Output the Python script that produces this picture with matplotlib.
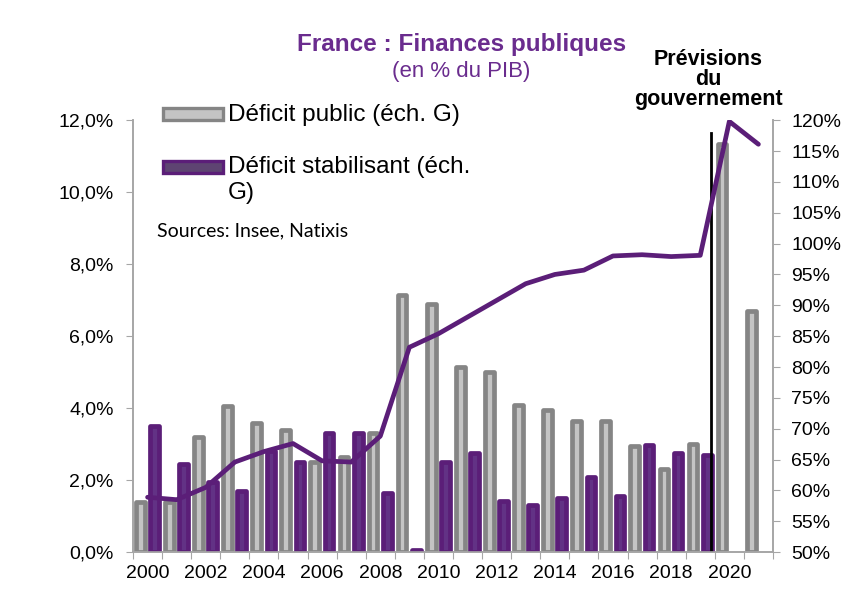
import numpy as np
import matplotlib.pyplot as plt
from matplotlib.patches import Rectangle
from matplotlib.ticker import FuncFormatter

years = list(range(2000, 2022))
deficit_public = [1.4, 1.4, 3.2, 4.05, 3.6, 3.4, 2.5, 2.65, 3.3, 7.15, 6.9, 5.15,
                  5.0, 4.1, 3.95, 3.65, 3.65, 2.95, 2.3, 3.0, 11.35, 6.7]
deficit_stabilisant = [3.5, 2.45, 1.95, 1.7, 2.8, 2.5, 3.3, 3.3, 1.65, 0.07, 2.5, 2.75,
                       1.43, 1.3, 1.5, 2.1, 1.55, 2.97, 2.75, 2.7, None, None]
dette = [58.9, 58.5, 60.5, 64.6, 66.3, 67.6, 64.8, 64.6, 68.8, 83.2, 85.4, 88.1,
         90.8, 93.5, 95.0, 95.7, 98.0, 98.2, 97.9, 98.1, 119.8, 116.1]

PURPLE = '#5b1e78'
TITLE_PURPLE = '#6a2c8e'
GRAY_EDGE = '#858585'
GRAY_FACE = '#c4c4c4'
AXIS_GRAY = '#a6a6a6'

plt.rcParams['font.family'] = ['Liberation Sans', 'DejaVu Sans']

fig = plt.figure(figsize=(8.42, 5.95), dpi=100)
ax = fig.add_axes([0.158, 0.072, 0.76, 0.726])
ax2 = ax.twinx()

x = np.arange(len(years))
w = 0.3
ax.bar(x - 0.25, deficit_public, width=w, color=GRAY_FACE, edgecolor=GRAY_EDGE,
       linewidth=3.4, joinstyle='round', zorder=2)
stab_x = [xi for xi, v in zip(x, deficit_stabilisant) if v is not None]
stab_v = [v for v in deficit_stabilisant if v is not None]
ax.bar(np.array(stab_x) + 0.24, stab_v, width=w, color='#623285', edgecolor=PURPLE,
       linewidth=3.4, joinstyle='round', zorder=3)

# forecast separator
ax.plot([19.37, 19.37], [0, 11.65], color='black', lw=2, zorder=6)

ax2.plot(x, dette, color=PURPLE, lw=3.4, zorder=5, solid_capstyle='round')
ax2.set_zorder(ax.get_zorder() + 1)
ax2.patch.set_visible(False)

ax.set_xlim(-0.5, len(years) - 0.5)
ax.set_ylim(0, 12)
ax2.set_ylim(50, 120)

ax.set_yticks(np.arange(0, 12.1, 2))
ax.yaxis.set_major_formatter(FuncFormatter(lambda v, p: f"{v:.1f}%".replace('.', ',')))
ax2.set_yticks(np.arange(50, 121, 5))
ax2.yaxis.set_major_formatter(FuncFormatter(lambda v, p: f"{v:.0f}%"))

ax.set_xticks(np.arange(-0.5, len(years), 1))
ax.set_xticklabels([])
ax.set_xticks(x[::2], minor=True)
ax.set_xticklabels([str(y) for y in years[::2]], minor=True)
ax.tick_params(axis='x', which='minor', length=0, labelsize=14, pad=9)
ax.tick_params(axis='x', which='major', length=5, color=AXIS_GRAY)
ax.tick_params(axis='y', labelsize=14, length=5, color=AXIS_GRAY, pad=9)
ax2.tick_params(axis='y', labelsize=14, length=5, color=AXIS_GRAY, pad=8)

for a in (ax, ax2):
    a.spines['top'].set_visible(False)
    for s in ('left', 'right', 'bottom'):
        a.spines[s].set_color(AXIS_GRAY)
        a.spines[s].set_linewidth(1.2)

fig.text(0.548, 0.926, "France : Finances publiques", ha='center', va='center',
         fontsize=17.5, fontweight='bold', color=TITLE_PURPLE)
fig.text(0.548, 0.879, "(en % du PIB)", ha='center', va='center',
         fontsize=16, color=TITLE_PURPLE)
fig.text(0.841, 0.866, "Prévisions\ndu\ngouvernement", ha='center', va='center',
         fontsize=15.5, fontweight='bold', linespacing=0.95)

# legend
fig.add_artist(Rectangle((0.1936, 0.798), 0.0713, 0.02, transform=fig.transFigure,
                         facecolor=GRAY_FACE, edgecolor=GRAY_EDGE, lw=2.4))
fig.text(0.271, 0.807, "Déficit public (éch. G)", ha='left', va='center', fontsize=17.5)
fig.add_artist(Rectangle((0.1936, 0.709), 0.0713, 0.021, transform=fig.transFigure,
                         facecolor='#5e4472', edgecolor=PURPLE, lw=2.4))
fig.text(0.271, 0.72, "Déficit stabilisant (éch.", ha='left', va='center', fontsize=17.5)
fig.text(0.271, 0.675, "G)", ha='left', va='center', fontsize=17.5)
fig.text(0.186, 0.612, "Sources: Insee, Natixis", ha='left', va='center', fontsize=14,
         family=['Lato', 'DejaVu Sans'])

fig.savefig('out.png', dpi=100)
